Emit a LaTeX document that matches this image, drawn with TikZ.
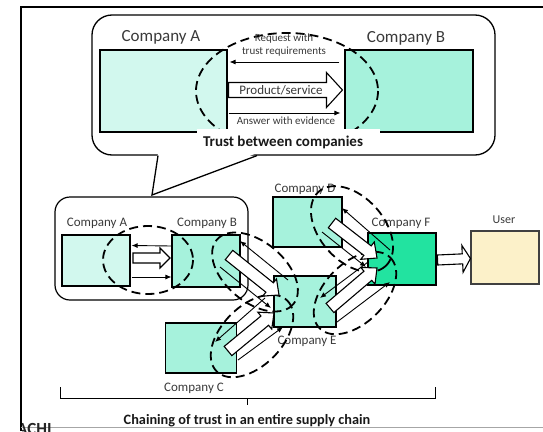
\documentclass[tikz,border=0pt]{standalone}
\usepackage{fontspec}
\setmainfont{Carlito}
\usetikzlibrary{calc,arrows.meta}

\definecolor{palemint}{HTML}{D2F8EE}
\definecolor{mint}{HTML}{A6F2DC}
\definecolor{deepmint}{HTML}{22E3A0}
\definecolor{cream}{HTML}{FCF1C9}
\definecolor{labelgrey}{HTML}{3A3A3A}

% hollow block arrow: {from}{to}{body half width}{head half width}{head length}
\newcommand\fatarrow[5]{%
  \coordinate (fa-hb) at ($(#2)!#5!(#1)$);
  \draw[fat] ($(#1)!#3!90:(#2)$) -- ($(fa-hb)!#3!90:(#2)$)
    -- ($(fa-hb)!#4!90:(#2)$) -- (#2) -- ($(fa-hb)!#4!-90:(#2)$)
    -- ($(fa-hb)!#3!-90:(#2)$) -- ($(#1)!#3!-90:(#2)$) -- cycle;}

\tikzset{
  firm/.style={draw=black, line width=1.1pt, inner sep=0pt},
  tag/.style={text=labelgrey, inner sep=0pt, font=\fontsize{13}{13}\selectfont},
  bigtag/.style={text=labelgrey, inner sep=0pt, font=\fontsize{17}{17}\selectfont},
  small/.style={text=labelgrey, inner sep=0pt, font=\fontsize{11}{13.5}\selectfont},
  caption/.style={text=black!90, inner sep=0pt, font=\bfseries\fontsize{14.3}{15}\selectfont},
  trustring/.style={line width=1.8pt, dash pattern=on 9pt off 5pt},
  fat/.style={draw=black, line width=1.1pt, fill=white, line join=miter},
  thinarrow/.style={line width=0.9pt, -{Latex[length=6pt,width=5pt]}},
}

\begin{document}
\begin{tikzpicture}[x=1pt,y=-1pt]
\useasboundingbox (0,0) rectangle (543,431);

% page frame
\draw[line width=1.2pt] (21,431) -- (21,7) -- (543,7);
\draw[gray!70, line width=1pt] (21,427.5) -- (543,427.5);
\begin{scope}
  \clip (22,0) rectangle (543,431);
  \node[anchor=base west, inner sep=0pt, text=black!85,
        font=\bfseries\fontsize{17}{17}\selectfont] (logo) at (17,434.5) {ACHI};
\end{scope}

% ---------- speech balloon: trust between two companies ----------
\draw[line width=1.3pt, fill=white, rounded corners=20pt] (92,15) rectangle (495,155);
\fill[white] (158,153) -- (152,195) -- (257,153) -- cycle;
\coordinate (tailL) at (158,155.6);
\coordinate (tailR) at (257,155.6);
\coordinate (tailTip) at (152,195);
\draw[line width=1.3pt, line join=miter] (tailL) -- (tailTip) -- (tailR);

\node[firm, fill=palemint, minimum width=127pt, minimum height=82pt] (bigA) at (163.5,91) {};
\node[firm, fill=mint, minimum width=128pt, minimum height=82pt] (bigB) at (409,91) {};
\node[bigtag] (bigAlbl) at (161,37) {Company A};
\node[bigtag] (bigBlbl) at (406,38) {Company B};

\draw[trustring] (287,91) ellipse [x radius=91, y radius=58];

\node[small, align=center] (reqtxt) at (284,45) {Request with\\trust requirements};
\draw[thinarrow] ([xshift=-5pt,yshift=29pt]bigB.west) -- ([xshift=2pt,yshift=29pt]bigA.east);
\coordinate (prodA) at ([xshift=1pt,yshift=1pt]bigA.east);
\coordinate (prodB) at ([xshift=-2pt,yshift=1pt]bigB.west);
\fatarrow{prodA}{prodB}{7.5pt}{17.5pt}{16pt}
\node[tag] (prodtxt) at (281,90) {Product/service};
\draw[thinarrow] ([xshift=1pt,yshift=-22pt]bigA.east) -- ([xshift=-4pt,yshift=-22pt]bigB.west);
\node[small] (anstxt) at (286,121) {Answer with evidence};

\fill[white] (197,128.5) rectangle (380,153);
\node[caption, font=\bfseries\fontsize{15}{15}\selectfont] (trusttxt) at (283,142) {Trust between companies};

% ---------- supply chain ----------
\draw[line width=1.2pt, rounded corners=15pt] (55,197) rectangle (248,300);

\node[firm, fill=palemint, minimum width=68pt, minimum height=51pt] (sA) at (96,260.5) {};
\node[firm, fill=mint, minimum width=68pt, minimum height=52pt] (sB) at (206,261) {};
\node[firm, fill=mint, minimum width=69pt, minimum height=50pt] (cD) at (307.5,222) {};
\node[firm, fill=mint, minimum width=62pt, minimum height=51pt] (cE) at (305,301.5) {};
\node[firm, fill=mint, minimum width=71pt, minimum height=50pt] (cC) at (201,348) {};
\node[firm, fill=deepmint, minimum width=68pt, minimum height=52pt] (cF) at (402,259) {};
\node[firm, draw=black!75, fill=cream, minimum width=68pt, minimum height=53pt] (user) at (505,257.5) {};

\node[tag] (sAlbl) at (97,223) {Company A};
\node[tag] (sBlbl) at (207,223) {Company B};
\node[tag] (cDlbl) at (305,189) {Company D};
\node[tag] (cFlbl) at (401,223) {Company F};
\node[tag, font=\fontsize{12}{12}\selectfont] (userlbl) at (504,220) {User};
\node[tag] (cElbl) at (307,341) {Company E};
\node[tag] (cClbl) at (194,388) {Company C};

% trust rings around each link
\draw[trustring] (148,260) ellipse [x radius=45, y radius=34];
\draw[trustring, shift={(255,272)}, rotate=-40] (0,0) ellipse [x radius=50, y radius=30];
\draw[trustring, shift={(252,336)}, rotate=45] (0,0) ellipse [x radius=50, y radius=30];
\draw[trustring, shift={(352,229)}, rotate=-48] (0,0) ellipse [x radius=50, y radius=32];
\draw[trustring, shift={(355,293)}, rotate=45] (0,0) ellipse [x radius=50, y radius=30];

% A -> B
\draw[thinarrow] ([yshift=15pt]sB.west) -- ([xshift=1pt,yshift=15pt]sA.east);
\coordinate (abT) at (133,258);
\coordinate (abH) at (170,258);
\fatarrow{abT}{abH}{5pt}{10pt}{10pt}
\draw[thinarrow] ([xshift=1pt,yshift=-16.5pt]sA.east) -- ([yshift=-16pt]sB.west);

% B -> E
\coordinate (beT) at (229,255);
\coordinate (beH) at (279,295);
\coordinate (beR1) at (288,280);
\coordinate (beR2) at (240,241);
\coordinate (beA1) at (220,267);
\coordinate (beA2) at (271,308);
\draw[thinarrow] (beR1) -- (beR2);
\draw[thinarrow] (beA1) -- (beA2);
\fatarrow{beT}{beH}{6pt}{11pt}{12pt}

% C -> E
\coordinate (ceT) at (228,351);
\coordinate (ceH) at (274,313);
\coordinate (ceR1) at (265,298);
\coordinate (ceR2) at (215,342);
\coordinate (ceA1) at (238,360);
\coordinate (ceA2) at (283,327);
\draw[thinarrow] (ceR1) -- (ceR2);
\draw[thinarrow] (ceA1) -- (ceA2);
\fatarrow{ceT}{ceH}{6pt}{11pt}{12pt}

% D -> F
\coordinate (dfT) at (332,223);
\coordinate (dfH) at (377,258);
\coordinate (dfR1) at (390,250);
\coordinate (dfR2) at (342,208);
\coordinate (dfA1) at (322,232);
\coordinate (dfA2) at (366,267);
\draw[thinarrow] (dfR1) -- (dfR2);
\draw[thinarrow] (dfA1) -- (dfA2);
\fatarrow{dfT}{dfH}{6pt}{11pt}{12pt}

% E -> F
\coordinate (efT) at (330,308);
\coordinate (efH) at (377,268);
\coordinate (efR1) at (368,262);
\coordinate (efR2) at (320,298);
\coordinate (efA1) at (337,322);
\coordinate (efA2) at (390,282);
\draw[thinarrow] (efR1) -- (efR2);
\draw[thinarrow] (efA1) -- (efA2);
\fatarrow{efT}{efH}{6pt}{11pt}{12pt}

% F -> User
\coordinate (fuT) at ([xshift=1pt,yshift=-1pt]cF.east);
\coordinate (fuH) at ([yshift=-1pt]user.west);
\fatarrow{fuT}{fuH}{5pt}{13.5pt}{8pt}

% brace under the whole chain
\coordinate (brL) at (60,387);
\coordinate (brR) at (435,387);
\coordinate (brM) at (247,405);
\draw[line width=1pt] (brL) -- (60,398.5) -- (435,398.5) -- (brR);
\draw[line width=1pt] (247,398.5) -- (brM);
\node[caption] (chaintxt) at (247,421) {Chaining of trust in an entire supply chain};
\end{tikzpicture}
\end{document}
